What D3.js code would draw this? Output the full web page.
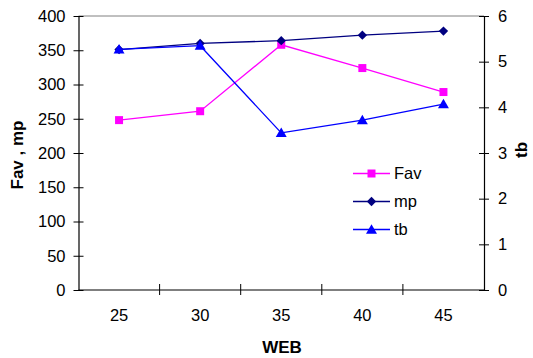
<!DOCTYPE html>
<html>
<head>
<meta charset="utf-8">
<script src="https://cdn.jsdelivr.net/npm/d3@7"></script>
<style>
  html, body { margin: 0; padding: 0; background: #fff; }
  svg { display: block; font-family: "Liberation Sans", Arial, sans-serif; }
</style>
</head>
<body>
<svg id="chart" width="533" height="358"></svg>
<script>
// WEB categories and the three measured series
const categories = ["25", "30", "35", "40", "45"];
const favValues = [248, 261, 358, 324, 289];
const mpValues = [351, 360, 364, 372, 378];
const tbValues = [5.27, 5.35, 3.44, 3.72, 4.07];
const leftTicks = [0, 50, 100, 150, 200, 250, 300, 350, 400];
const rightTicks = [0, 1, 2, 3, 4, 5, 6];

const svg = d3.select("#chart");
const plot = { left: 78.5, right: 484, top: 16, bottom: 290 };

const x = d3.scaleBand().domain(categories).range([plot.left, plot.right]);
const yLeft = d3.scaleLinear().domain([0, 400]).range([plot.bottom, plot.top]);
const yRight = d3.scaleLinear().domain([0, 6]).range([plot.bottom, plot.top]);
const cx = d => x(d) + x.bandwidth() / 2;

// top frame edge
svg.append("line")
  .attr("x1", plot.left).attr("x2", plot.right)
  .attr("y1", plot.top).attr("y2", plot.top)
  .attr("stroke", "#808080").attr("stroke-width", 1);

function styleAxis(g) {
  g.select(".domain").attr("stroke", "#000").attr("stroke-width", 1.2);
  g.selectAll(".tick line").attr("stroke", "#000");
  g.selectAll(".tick text").attr("fill", "#000").style("font-size", "16.5px");
}

// left axis (Fav, mp)
const gl = svg.append("g").attr("transform", `translate(${plot.left},0)`)
  .call(d3.axisLeft(yLeft).tickValues(leftTicks).tickSize(5).tickSizeOuter(0).tickPadding(8));
styleAxis(gl);
gl.selectAll(".tick line").attr("x2", 5).attr("x1", -5);

// right axis (tb)
const gr = svg.append("g").attr("transform", `translate(${plot.right},0)`)
  .call(d3.axisRight(yRight).tickValues(rightTicks).tickFormat(d3.format("d"))
    .tickSize(5).tickSizeOuter(0).tickPadding(9));
styleAxis(gr);
gr.selectAll(".tick line").attr("x1", -5).attr("x2", 5);

// bottom axis with ticks at category boundaries
const gb = svg.append("g").attr("transform", `translate(0,${plot.bottom})`)
  .call(d3.axisBottom(x).tickSize(0).tickPadding(19));
styleAxis(gb);
gb.select(".domain").attr("d", `M${plot.left},0H${plot.right}`);
gb.selectAll(".bound").data(categories.slice(1)).enter().append("line")
  .attr("x1", d => x(d)).attr("x2", d => x(d))
  .attr("y1", -6).attr("y2", 5)
  .attr("stroke", "#000");

// axis titles
svg.append("text")
  .attr("transform", "translate(23,155) rotate(-90)")
  .attr("text-anchor", "middle")
  .style("font-size", "17px").style("font-weight", "bold")
  .text("Fav , mp");
svg.append("text")
  .attr("transform", "translate(527,150) rotate(-90)")
  .attr("text-anchor", "middle")
  .style("font-size", "17px").style("font-weight", "bold")
  .text("tb");
svg.append("text")
  .attr("x", 282).attr("y", 353)
  .attr("text-anchor", "middle")
  .style("font-size", "17px").style("font-weight", "bold")
  .text("WEB");

const series = [
  { name: "Fav", values: favValues, y: yLeft, color: "#FF00FF", shape: d3.symbolSquare, size: 64, rot: 0, dy: 0 },
  { name: "mp", values: mpValues, y: yLeft, color: "#000080", shape: d3.symbolSquare, size: 44, rot: 45, dy: 0 },
  { name: "tb", values: tbValues, y: yRight, color: "#0000FF", shape: d3.symbolTriangle, size: 52, rot: 0, dy: 1 }
];

const line = d3.line();
series.forEach(s => {
  const pts = categories.map((c, i) => [cx(c), s.y(s.values[i])]);
  svg.append("path")
    .attr("d", line(pts))
    .attr("fill", "none")
    .attr("stroke", s.color)
    .attr("stroke-width", 1.3);
  svg.selectAll(null).data(pts).enter().append("path")
    .attr("d", d3.symbol().type(s.shape).size(s.size))
    .attr("transform", d => `translate(${d[0]},${d[1] + s.dy}) rotate(${s.rot})`)
    .attr("fill", s.color);
});

// legend
const legend = svg.append("g");
series.forEach((s, i) => {
  const ly = 173.5 + i * 28;
  legend.append("line")
    .attr("x1", 353).attr("x2", 390)
    .attr("y1", ly).attr("y2", ly)
    .attr("stroke", s.color).attr("stroke-width", 1.3);
  legend.append("path")
    .attr("d", d3.symbol().type(s.shape).size(s.size))
    .attr("transform", `translate(371.5,${ly + s.dy}) rotate(${s.rot})`)
    .attr("fill", s.color);
  legend.append("text")
    .attr("x", 394).attr("y", ly)
    .attr("dy", "0.35em")
    .style("font-size", "16.5px")
    .text(s.name);
});
</script>
</body>
</html>
